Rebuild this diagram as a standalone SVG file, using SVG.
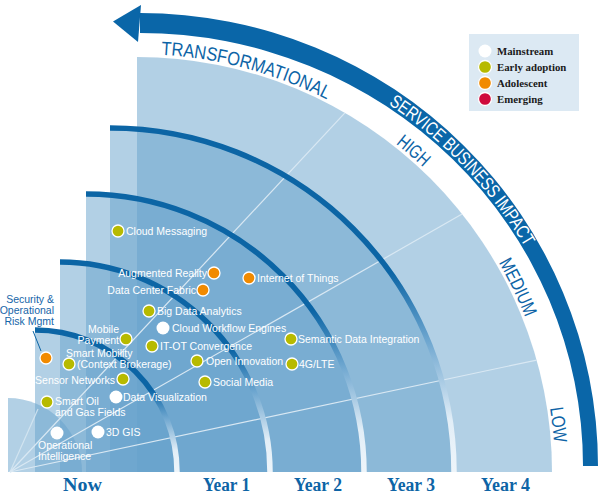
<svg xmlns="http://www.w3.org/2000/svg" width="600" height="495" viewBox="0 0 600 495">
<style>
.layer{fill:#65a1cb;fill-opacity:0.5}
.arc{fill:none;stroke:url(#arcGrad);stroke-width:5.5}
.ray{stroke:#d9e8f3;stroke-width:1.2;fill:none}
.lbl{font-family:"Liberation Sans",Arial,sans-serif;font-size:10.5px;fill:#ffffff}
.sec{font-family:"Liberation Sans",Arial,sans-serif;font-size:10.5px;fill:#1565a8}
.zone{font-family:"Liberation Sans",Arial,sans-serif;font-size:19px;fill:#0d64a6}
.band{font-family:"Liberation Sans",Arial,sans-serif;font-size:18.5px;fill:#ffffff}
.axis{font-family:"Liberation Serif","Times New Roman",serif;font-size:18px;font-weight:bold;fill:#0d64a6;text-anchor:middle}
.leg{font-family:"Liberation Serif","Times New Roman",serif;font-size:10.8px;font-weight:bold;fill:#1a1a1a}
.w{fill:#ffffff}
.g{fill:#b7ba00;stroke:#ffffff;stroke-width:1.3}
.o{fill:#f18a00;stroke:#ffffff;stroke-width:1.3}
.r{fill:#cf0a3c;stroke:#ffffff;stroke-width:1.3}
</style>
<defs>
<linearGradient id="arcGrad" x1="0" y1="0" x2="0" y2="1">
<stop offset="0" stop-color="#0c65a5"/>
<stop offset="0.42" stop-color="#0c65a5"/>
<stop offset="0.62" stop-color="#6fa7d0"/>
<stop offset="0.85" stop-color="#e2eef7"/>
<stop offset="1" stop-color="#eef5fa"/>
</linearGradient>
<path id="zonePath" d="M137,54 A418,418 0 0 1 555,472"/>
<path id="bandPath" d="M140,30 A445,436 0 0 1 585,466"/>
</defs>

<g id="layers">
<path class="layer" d="M137,472 V57 A415,415 0 0 1 552,472 Z"/>
<path class="layer" d="M110,472 V128 A344,344 0 0 1 454,472 Z"/>
<path class="layer" d="M86,472 V194 A278,278 0 0 1 364,472 Z"/>
<path class="layer" d="M60,472 V262 A210,210 0 0 1 270,472 Z"/>
<path class="layer" d="M35,472 V330 A142,142 0 0 1 177,472 Z"/>
<path class="layer" d="M8,472 V398 A74,74 0 0 1 82,472 Z"/>
</g>

<g id="connectors">
<line class="ray" x1="10" y1="472" x2="536.6" y2="360.1"/>
<line class="ray" x1="10" y1="472" x2="462.1" y2="214.1"/>
<line class="ray" x1="10" y1="472" x2="344.9" y2="112.9"/>
<line class="ray" x1="10" y1="472" x2="38" y2="409" opacity="0.8"/>
<path class="arc" d="M110,128 A344,344 0 0 1 454,472"/>
<path class="arc" d="M86,194 A278,278 0 0 1 364,472"/>
<path class="arc" d="M60,262 A210,210 0 0 1 270,472"/>
<path class="arc" d="M35,330 A142,142 0 0 1 177,472"/>
<line x1="33" y1="331" x2="41" y2="351" stroke="#0c65a5" stroke-width="1"/>
</g>

<g id="impact-arrow">
<path fill="#0a66a8" d="M140,13 A458,453 0 0 1 598,466 L583,466 A443,433 0 0 0 140,33 Z"/>
<polygon fill="#0a66a8" points="141,5 113,21.5 138,42"/>
<text class="band"><textPath href="#bandPath" startOffset="263" textLength="63.4" lengthAdjust="spacingAndGlyphs">SERVICE</textPath></text>
<text class="band"><textPath href="#bandPath" startOffset="330.4" textLength="73" lengthAdjust="spacingAndGlyphs">BUSINESS</textPath></text>
<text class="band"><textPath href="#bandPath" startOffset="407.4" textLength="54.6" lengthAdjust="spacingAndGlyphs">IMPACT</textPath></text>
</g>

<g id="zones">
<text class="zone"><textPath href="#zonePath" startOffset="24" textLength="173" lengthAdjust="spacingAndGlyphs">TRANSFORMATIONAL</textPath></text>
<text class="zone"><textPath href="#zonePath" startOffset="279" textLength="36" lengthAdjust="spacingAndGlyphs">HIGH</textPath></text>
<text class="zone"><textPath href="#zonePath" startOffset="437" textLength="61" lengthAdjust="spacingAndGlyphs">MEDIUM</textPath></text>
<text class="zone"><textPath href="#zonePath" startOffset="592" textLength="35" lengthAdjust="spacingAndGlyphs">LOW</textPath></text>
</g>

<g id="n-cloud-messaging"><circle class="g" cx="118" cy="231" r="6"/><text class="lbl" x="126" y="235">Cloud Messaging</text></g>
<g id="n-augmented-reality"><circle class="o" cx="214" cy="273" r="6"/><text class="lbl" x="207" y="277" text-anchor="end">Augmented Reality</text></g>
<g id="n-data-center-fabric"><circle class="o" cx="203" cy="290" r="6"/><text class="lbl" x="196" y="294" text-anchor="end">Data Center Fabric</text></g>
<g id="n-internet-of-things"><circle class="o" cx="249" cy="278" r="6"/><text class="lbl" x="257" y="282">Internet of Things</text></g>
<g id="n-big-data"><circle class="g" cx="149" cy="311" r="6"/><text class="lbl" x="157" y="315">Big Data Analytics</text></g>
<g id="n-cloud-workflow"><circle class="w" cx="163" cy="328" r="6.5"/><text class="lbl" x="172" y="332">Cloud Workflow Engines</text></g>
<g id="n-mobile-payment"><circle class="g" cx="126" cy="339" r="6"/><text class="lbl" x="119" y="333" text-anchor="end">Mobile</text><text class="lbl" x="119" y="344" text-anchor="end">Payment</text></g>
<g id="n-it-ot"><circle class="g" cx="152" cy="346" r="6"/><text class="lbl" x="160" y="350">IT-OT Convergence</text></g>
<g id="n-semantic"><circle class="g" cx="291" cy="339" r="6"/><text class="lbl" x="298" y="343">Semantic Data Integration</text></g>
<g id="n-4g"><circle class="g" cx="292" cy="364" r="6"/><text class="lbl" x="299" y="368">4G/LTE</text></g>
<g id="n-open-innovation"><circle class="g" cx="197" cy="361" r="6"/><text class="lbl" x="206" y="365">Open Innovation</text></g>
<g id="n-social-media"><circle class="g" cx="205" cy="382" r="6"/><text class="lbl" x="213" y="386">Social Media</text></g>
<g id="n-security"><circle class="o" cx="46" cy="358" r="6"/><text class="sec" x="54" y="303" text-anchor="end">Security &amp;</text><text class="sec" x="54" y="314" text-anchor="end">Operational</text><text class="sec" x="54" y="325" text-anchor="end">Risk Mgmt</text></g>
<g id="n-smart-mobility"><circle class="g" cx="69" cy="364" r="6"/><text class="lbl" x="66" y="357">Smart Mobility</text><text class="lbl" x="77" y="368">(Context Brokerage)</text></g>
<g id="n-sensor-networks"><circle class="g" cx="123" cy="379" r="6"/><text class="lbl" x="115" y="384" text-anchor="end">Sensor Networks</text></g>
<g id="n-data-visualization"><circle class="w" cx="116" cy="397" r="6.5"/><text class="lbl" x="123" y="401">Data Visualization</text></g>
<g id="n-smart-oil"><circle class="g" cx="47" cy="402" r="6"/><text class="lbl" x="55" y="405">Smart Oil</text><text class="lbl" x="55" y="416">and Gas Fields</text></g>
<g id="n-operational-intelligence"><circle class="w" cx="57" cy="433" r="6.5"/><text class="lbl" x="38" y="449">Operational</text><text class="lbl" x="38" y="460">Intelligence</text></g>
<g id="n-3d-gis"><circle class="w" cx="98" cy="432" r="6.5"/><text class="lbl" x="106" y="436">3D GIS</text></g>

<g id="axis">
<text class="axis" x="82.5" y="491" textLength="39" lengthAdjust="spacingAndGlyphs">Now</text>
<text class="axis" x="226.5" y="491" textLength="47" lengthAdjust="spacingAndGlyphs">Year 1</text>
<text class="axis" x="318" y="491" textLength="48" lengthAdjust="spacingAndGlyphs">Year 2</text>
<text class="axis" x="411" y="491" textLength="48" lengthAdjust="spacingAndGlyphs">Year 3</text>
<text class="axis" x="505.5" y="491" textLength="49" lengthAdjust="spacingAndGlyphs">Year 4</text>
</g>

<g id="legend">
<rect x="469" y="34" width="110" height="77" fill="#dce9f3"/>
<circle cx="485" cy="51" r="6.5" fill="#ffffff"/>
<circle class="g" cx="485" cy="67" r="6.5" stroke-width="0.8"/>
<circle class="o" cx="485" cy="83" r="6.5" stroke-width="0.8"/>
<circle class="r" cx="485" cy="99" r="6.5" stroke-width="0.8"/>
<text class="leg" x="497" y="55">Mainstream</text>
<text class="leg" x="497" y="71">Early adoption</text>
<text class="leg" x="497" y="87">Adolescent</text>
<text class="leg" x="497" y="103">Emerging</text>
</g>
</svg>
